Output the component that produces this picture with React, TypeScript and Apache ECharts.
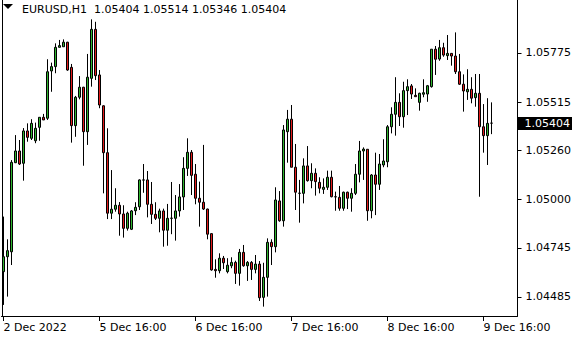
import React, { useEffect, useRef } from "react";
import * as echarts from "echarts";

// ---- data (EURUSD H1) ----
const OPEN = [
  1.04619, 1.04698, 1.04724, 1.05195, 1.05257, 1.05192, 1.05363, 1.05324, 1.05311, 1.05382,
  1.05435, 1.05430, 1.05680, 1.05703, 1.05805, 1.05808, 1.05832, 1.05699, 1.05391, 1.05541,
  1.05594, 1.05359, 1.05641, 1.05900, 1.05659, 1.05496, 1.05248, 1.04928, 1.04949, 1.04970,
  1.04924, 1.04848, 1.04843, 1.04941, 1.04962, 1.05104, 1.05104, 1.04975, 1.04922, 1.04901,
  1.04940, 1.04838, 1.04901, 1.04901, 1.04940, 1.05014, 1.05165, 1.05250, 1.05134, 1.05007,
  1.04986, 1.04950, 1.04820, 1.04631, 1.04624, 1.04690, 1.04619, 1.04650, 1.04668, 1.04610,
  1.04721, 1.04650, 1.04668, 1.04631, 1.04659, 1.04483, 1.04589, 1.04774, 1.04751, 1.04993,
  1.04888, 1.05359, 1.05425, 1.05171, 1.05033, 1.05033, 1.05178, 1.05100, 1.05139, 1.05091,
  1.05054, 1.05065, 1.05118, 1.05015, 1.05012, 1.04954, 1.05039, 1.05007, 1.05033, 1.05134,
  1.05257, 1.05266, 1.04941, 1.05130, 1.05081, 1.05183, 1.05200, 1.05385, 1.05451, 1.05514,
  1.05438, 1.05576, 1.05601, 1.05551, 1.05514, 1.05557, 1.05558, 1.05597, 1.05795, 1.05743,
  1.05803, 1.05761, 1.05773, 1.05759, 1.05676, 1.05610, 1.05570, 1.05583, 1.05539, 1.05562,
  1.05385, 1.05338, 1.05404,
];
const HIGH = [
  1.04910, 1.04790, 1.05209, 1.05341, 1.05315, 1.05378, 1.05403, 1.05425, 1.05407, 1.05435,
  1.05453, 1.05742, 1.05724, 1.05826, 1.05844, 1.05847, 1.05834, 1.05717, 1.05548, 1.05653,
  1.05596, 1.05770, 1.05953, 1.05940, 1.05685, 1.05498, 1.05377, 1.05156, 1.05060, 1.04987,
  1.04970, 1.04936, 1.04945, 1.04986, 1.05107, 1.05188, 1.05151, 1.05093, 1.04986, 1.04952,
  1.04952, 1.04977, 1.05093, 1.05024, 1.05082, 1.05224, 1.05324, 1.05262, 1.05188, 1.05095,
  1.05289, 1.04952, 1.04822, 1.04684, 1.04716, 1.04702, 1.04690, 1.04695, 1.04677, 1.04739,
  1.04760, 1.04675, 1.04675, 1.04707, 1.04675, 1.04666, 1.04795, 1.04790, 1.05065, 1.05045,
  1.05394, 1.05474, 1.05500, 1.05294, 1.05104, 1.05218, 1.05283, 1.05192, 1.05165, 1.05118,
  1.05112, 1.05153, 1.05153, 1.05042, 1.05072, 1.05042, 1.05042, 1.05060, 1.05188, 1.05310,
  1.05276, 1.05266, 1.05135, 1.05248, 1.05241, 1.05319, 1.05394, 1.05488, 1.05647, 1.05562,
  1.05623, 1.05636, 1.05611, 1.05588, 1.05565, 1.05636, 1.05606, 1.05795, 1.05812, 1.05844,
  1.05829, 1.05870, 1.05775, 1.05884, 1.05770, 1.05662, 1.05689, 1.05647, 1.05664, 1.05664,
  1.05505, 1.05536, 1.05514,
];
const LOW = [
  1.04443, 1.04487, 1.04654, 1.05193, 1.05183, 1.05100, 1.05306, 1.05315, 1.05298, 1.05311,
  1.05421, 1.05421, 1.05570, 1.05668, 1.05805, 1.05808, 1.05681, 1.05301, 1.05332, 1.05530,
  1.05179, 1.05289, 1.05597, 1.05632, 1.05483, 1.05033, 1.04897, 1.04897, 1.04936, 1.04809,
  1.04799, 1.04836, 1.04839, 1.04918, 1.04945, 1.05036, 1.04906, 1.04871, 1.04892, 1.04827,
  1.04751, 1.04756, 1.04817, 1.04783, 1.04910, 1.04945, 1.05125, 1.05024, 1.04975, 1.04857,
  1.04945, 1.04790, 1.04624, 1.04587, 1.04610, 1.04633, 1.04610, 1.04637, 1.04554, 1.04545,
  1.04645, 1.04570, 1.04575, 1.04610, 1.04464, 1.04434, 1.04487, 1.04654, 1.04721, 1.04883,
  1.04857, 1.05195, 1.05171, 1.04945, 1.04878, 1.04980, 1.05095, 1.05060, 1.05021, 1.05033,
  1.05030, 1.05051, 1.05012, 1.04941, 1.04941, 1.04941, 1.04950, 1.04936, 1.05024, 1.05091,
  1.05104, 1.04888, 1.04901, 1.04918, 1.05051, 1.05171, 1.05171, 1.05350, 1.05338, 1.05389,
  1.05380, 1.05447, 1.05532, 1.05544, 1.05470, 1.05541, 1.05517, 1.05592, 1.05659, 1.05734,
  1.05755, 1.05738, 1.05708, 1.05664, 1.05606, 1.05465, 1.05527, 1.05509, 1.05491, 1.05015,
  1.05248, 1.05183, 1.05346,
];
const CLOSE = [
  1.04698, 1.04730, 1.05197, 1.05257, 1.05188, 1.05363, 1.05329, 1.05403, 1.05377, 1.05435,
  1.05421, 1.05676, 1.05703, 1.05805, 1.05814, 1.05832, 1.05685, 1.05391, 1.05541, 1.05594,
  1.05359, 1.05647, 1.05900, 1.05655, 1.05500, 1.05248, 1.04928, 1.04949, 1.04970, 1.04924,
  1.04848, 1.04928, 1.04940, 1.04959, 1.05104, 1.05103, 1.04975, 1.04922, 1.04901, 1.04940,
  1.04838, 1.04901, 1.04902, 1.04940, 1.05014, 1.05165, 1.05250, 1.05128, 1.05007, 1.04986,
  1.04950, 1.04817, 1.04628, 1.04624, 1.04690, 1.04666, 1.04653, 1.04668, 1.04610, 1.04721,
  1.04650, 1.04668, 1.04631, 1.04659, 1.04481, 1.04589, 1.04774, 1.04751, 1.04998, 1.04888,
  1.05368, 1.05425, 1.05171, 1.05039, 1.05034, 1.05178, 1.05100, 1.05139, 1.05095, 1.05060,
  1.05065, 1.05118, 1.05015, 1.05014, 1.04954, 1.05039, 1.05007, 1.05033, 1.05134, 1.05257,
  1.05267, 1.04941, 1.05130, 1.05081, 1.05188, 1.05204, 1.05385, 1.05451, 1.05514, 1.05438,
  1.05576, 1.05597, 1.05558, 1.05544, 1.05562, 1.05565, 1.05602, 1.05795, 1.05742, 1.05803,
  1.05764, 1.05773, 1.05759, 1.05676, 1.05610, 1.05574, 1.05583, 1.05536, 1.05562, 1.05385,
  1.05338, 1.05403, 1.05404,
];

const PRICE_TICKS = [1.04485, 1.04745, 1.05, 1.0526, 1.05515, 1.05775];
const TIME_TICK_INDEX = [0, 24, 48, 72, 96, 120];
const TIME_TICK_LABELS = ["2 Dec 2022", "5 Dec 16:00", "6 Dec 16:00", "7 Dec 16:00", "8 Dec 16:00", "9 Dec 16:00"];
const SYMBOL = "EURUSD,H1";
const LAST_BAR = { open: 1.05404, high: 1.05514, low: 1.05346, close: 1.05404 };
const Y_MIN = 1.043845;
const Y_MAX = 1.060552;

// hourly categories: Fri 2 Dec 16:00, then Mon 5 Dec onwards
const DAYS = [2, 5, 6, 7, 8, 9];
function buildCategories(): string[] {
  const out: string[] = [];
  DAYS.forEach((d) => {
    for (let h = d === 2 ? 16 : 0; h < 24; h++) out.push(`${d} Dec ${String(h).padStart(2, "0")}:00`);
  });
  return out.slice(0, OPEN.length);
}

const FONT = '"DejaVu Sans", Tahoma, sans-serif';
const GRID_TOP = 0;
const GRID_H = 316;

export default function App() {
  const ref = useRef<HTMLDivElement>(null);
  useEffect(() => {
    if (!ref.current) return;
    const chart = echarts.init(ref.current, undefined, { renderer: "svg" });
    const cats = buildCategories();
    const pad = 6;
    for (let i = 0; i < pad; i++) cats.push(`pad${i}`);
    const data = OPEN.map((o, i) => [o, CLOSE[i], LOW[i], HIGH[i]]);
    const isTick = (idx: number) => TIME_TICK_INDEX.indexOf(idx) >= 0;
    const gridW = 4 * cats.length;
    const gridLeft = 1.5;
    chart.setOption({
      animation: false,
      backgroundColor: "#ffffff",
      grid: { left: gridLeft, top: GRID_TOP, width: gridW, height: GRID_H, containLabel: false },
      xAxis: {
        type: "category",
        data: cats,
        boundaryGap: true,
        axisLine: { show: true, lineStyle: { color: "#000", width: 1 } },
        axisTick: { show: true, interval: (i: number) => isTick(i), alignWithLabel: true, length: 5, lineStyle: { color: "#000" } },
        axisLabel: {
          interval: (i: number) => isTick(i),
          formatter: (_v: string, i: number) => TIME_TICK_LABELS[TIME_TICK_INDEX.indexOf(i)] ?? "",
          align: "left",
          margin: 6,
          color: "#000",
          fontFamily: FONT,
          fontSize: 11,
        },
        splitLine: { show: false },
      },
      yAxis: {
        type: "value",
        position: "right",
        min: Y_MIN,
        max: Y_MAX,
        axisLine: { show: true, lineStyle: { color: "#000", width: 1 } },
        axisTick: { show: true, length: 4, customValues: PRICE_TICKS, lineStyle: { color: "#000" } },
        axisLabel: {
          customValues: PRICE_TICKS,
          formatter: (v: number) => v.toFixed(5),
          margin: 8,
          color: "#000",
          fontFamily: FONT,
          fontSize: 11,
        },
        splitLine: { show: false },
      },
      series: [
        {
          type: "candlestick",
          data,
          barWidth: 2,
          itemStyle: {
            color: "#2fb52f",
            color0: "#e21b1b",
            borderColor: "#000",
            borderColor0: "#000",
            borderColorDoji: "#000",
            borderWidth: 1,
          },
        },
      ],
      graphic: [
        { type: "polygon", shape: { points: [[3, 4], [13, 4], [8, 9]] }, style: { fill: "#000" } },
        {
          type: "text",
          left: 22,
          top: 4,
          style: {
            text: `${SYMBOL}  ${LAST_BAR.open.toFixed(5)} ${LAST_BAR.high.toFixed(5)} ${LAST_BAR.low.toFixed(5)} ${LAST_BAR.close.toFixed(5)}`,
            font: `11px ${FONT}`,
            fill: "#000",
          },
        },
        { type: "line", shape: { x1: 2.5, y1: 0, x2: 2.5, y2: GRID_H }, style: { stroke: "#000", lineWidth: 1 } },
      ],
    });
    // current price tag on the price axis, placed through the axis scale
    const py = chart.convertToPixel({ yAxisIndex: 0 }, LAST_BAR.close) as number;
    const axisX = gridLeft + gridW;
    chart.setOption({
      graphic: [
        { type: "polygon", shape: { points: [[3, 4], [13, 4], [8, 9]] }, style: { fill: "#000" } },
        {
          type: "text",
          left: 22,
          top: 4,
          style: {
            text: `${SYMBOL}  ${LAST_BAR.open.toFixed(5)} ${LAST_BAR.high.toFixed(5)} ${LAST_BAR.low.toFixed(5)} ${LAST_BAR.close.toFixed(5)}`,
            font: `11px ${FONT}`,
            fill: "#000",
          },
        },
        { type: "line", shape: { x1: 2.5, y1: 0, x2: 2.5, y2: GRID_H }, style: { stroke: "#000", lineWidth: 1 } },
        { type: "rect", shape: { x: axisX + 0.5, y: Math.round(py) - 6, width: 54, height: 13 }, style: { fill: "#000" } },
        {
          type: "text",
          x: axisX + 7,
          y: Math.round(py) + 0.5,
          style: {
            text: LAST_BAR.close.toFixed(5),
            font: `11px ${FONT}`,
            fill: "#fff",
            verticalAlign: "middle",
            align: "left",
          },
        },
      ],
    });
    return () => chart.dispose();
  }, []);
  return <div ref={ref} style={{ position: "fixed", left: 0, top: 0, width: 580, height: 340 }} />;
}
